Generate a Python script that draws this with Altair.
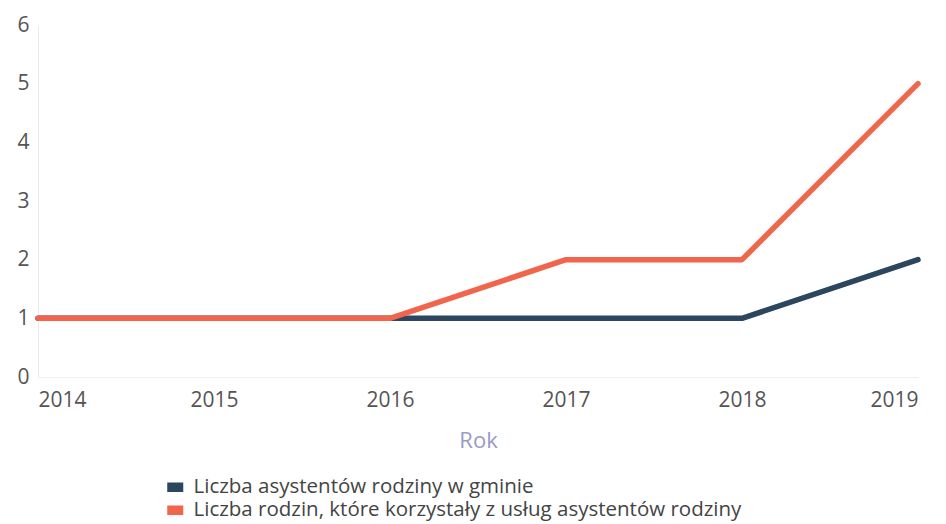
import altair as alt
import pandas as pd

years = [2014, 2015, 2016, 2017, 2018, 2019]
series_names = [
    "Liczba asystentów rodziny w gminie",
    "Liczba rodzin, które korzystały z usług asystentów rodziny",
]
asystenci = [1, 1, 1, 1, 1, 2]
rodziny = [1, 1, 1, 2, 2, 5]
colors = ["#2c4660", "#f1654d"]

rows = []
for y, v in zip(years, asystenci):
    rows.append({"Rok": y, "Wartość": v, "Seria": series_names[0]})
for y, v in zip(years, rodziny):
    rows.append({"Rok": y, "Wartość": v, "Seria": series_names[1]})
df = pd.DataFrame(rows)

# legend swatch: stack of thin horizontal strokes -> looks like a filled rectangle
swatch = "".join(f"M-1.6,{y:.1f}L1.6,{y:.1f}" for y in [-0.8, -0.6, -0.4, -0.2, 0.0, 0.2, 0.4, 0.6, 0.8])

chart = alt.Chart(df).mark_line(strokeWidth=5.5, strokeCap="round", strokeJoin="bevel").encode(
    x=alt.X("Rok:Q",
            scale=alt.Scale(domain=[2014, 2019], nice=False, zero=False),
            axis=alt.Axis(values=years, format="d", title="Rok", grid=False,
                          ticks=False, domain=True, domainColor="#eef0f6",
                          labelFontSize=21, labelColor="#555555", labelPadding=12,
                          labelFont="Open Sans", titleFont="Open Sans",
                          titleFontSize=22, titleFontWeight="normal",
                          titleColor="#9a9ac6", titlePadding=20)),
    y=alt.Y("Wartość:Q",
            scale=alt.Scale(domain=[0, 6], nice=False),
            axis=alt.Axis(values=[0, 1, 2, 3, 4, 5, 6], title=None, grid=False,
                          ticks=False, domain=True, domainColor="#e8eaf4",
                          labelFontSize=21, labelColor="#555555", labelPadding=9,
                          labelFont="Open Sans")),
    color=alt.Color("Seria:N",
                    scale=alt.Scale(domain=series_names, range=colors),
                    legend=alt.Legend(title=None, orient="none", legendX=127, legendY=452,
                                      symbolType=swatch, symbolSize=100,
                                      symbolStrokeWidth=1.5, labelFontSize=20.5,
                                      labelFont="Open Sans", labelColor="#444444",
                                      labelOffset=8, rowPadding=2, labelLimit=800)),
).properties(
    width=880, height=352,
    autosize=alt.AutoSizeParams(type="none"),
    padding={"left": 30, "top": 17, "right": 20, "bottom": 146},
    background="white",
).configure_view(stroke=None)

chart.save("out.html", embed_options={"renderer": "svg", "actions": False})
